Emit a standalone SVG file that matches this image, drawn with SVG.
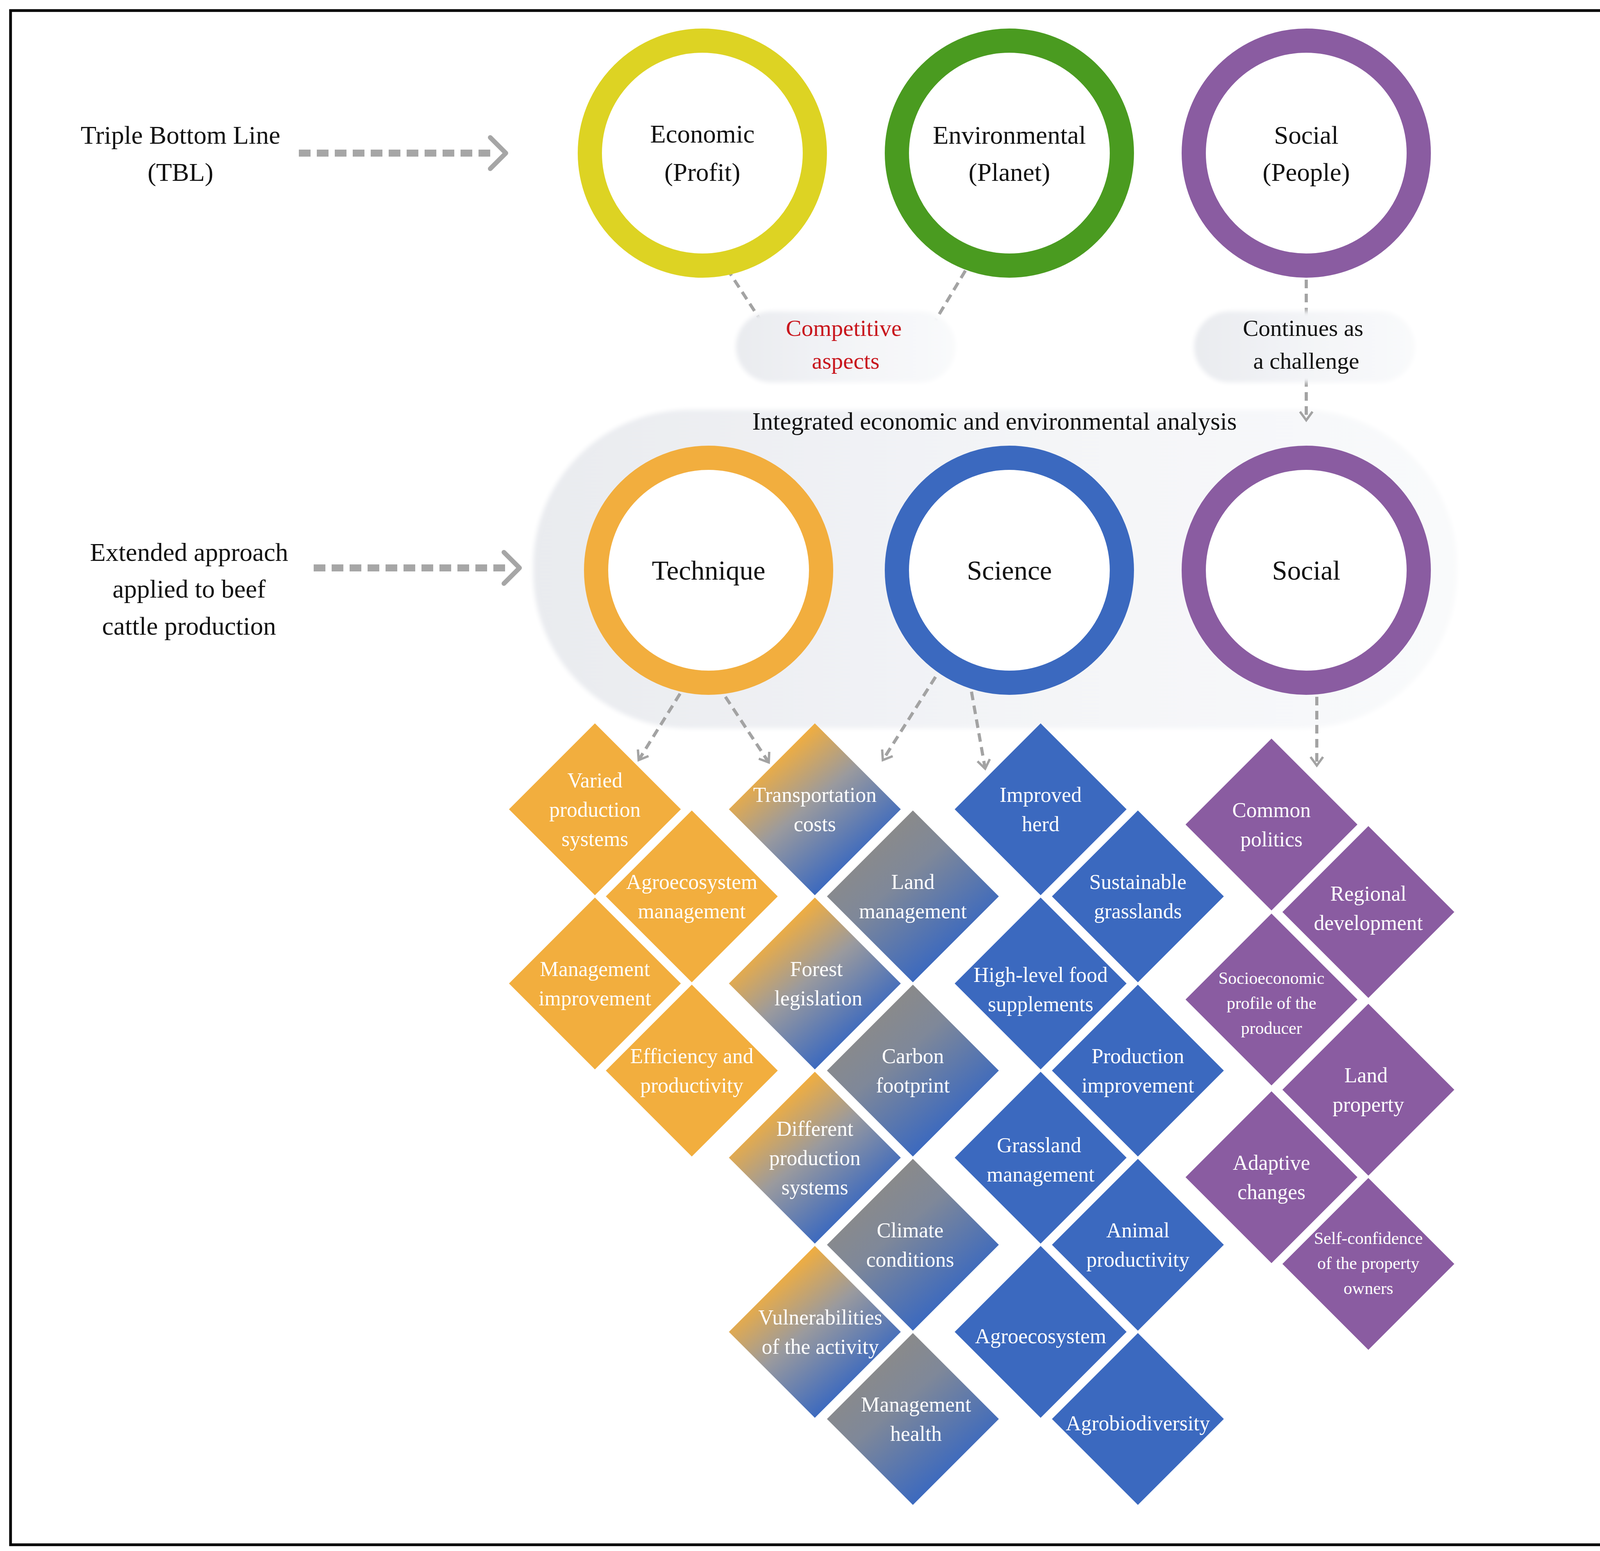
<svg xmlns="http://www.w3.org/2000/svg" width="4228" height="3971" viewBox="0 0 4228 3971">
<style>
.t{font-family:"Liberation Serif",serif;text-anchor:middle;fill:#111}
.big{font-size:66px}
.ring{fill:#fff;stroke-width:62}
.dt{font-family:"Liberation Serif",serif;text-anchor:middle;fill:#fff;font-size:54px}
.ds{font-size:44px}
.con{fill:none;stroke:#A3A3A3;stroke-width:8;stroke-dasharray:22 14}
.big-arrow{fill:none;stroke:#A6A6A6;stroke-width:18;stroke-dasharray:30 16}
.head{fill:none;stroke:#A6A6A6;stroke-width:12;stroke-linecap:round;stroke-linejoin:round}
.or{fill:#F2AE3E}.bl{fill:#3B69BF}.pu{fill:#8A5CA1}
</style>
<defs>
<marker id="ah" viewBox="0 0 20 20" refX="14" refY="10" markerWidth="5" markerHeight="5" orient="auto" markerUnits="strokeWidth">
<path d="M3,2 L14,10 L3,18" fill="none" stroke="#A3A3A3" stroke-width="3"/>
</marker>
<linearGradient id="gA" x1="0.25" y1="0.2" x2="0.75" y2="0.8">
<stop offset="0" stop-color="#F2AE3E"/><stop offset="0.45" stop-color="#9A9A9E"/><stop offset="1" stop-color="#3B69BF"/>
</linearGradient>
<linearGradient id="gB" x1="0.25" y1="0.2" x2="0.75" y2="0.8">
<stop offset="0" stop-color="#8A8A8A"/><stop offset="0.35" stop-color="#7F8899"/><stop offset="1" stop-color="#3B69BF"/>
</linearGradient>
<linearGradient id="pill" x1="0" y1="0" x2="1" y2="0">
<stop offset="0" stop-color="#E9EBEF"/><stop offset="0.5" stop-color="#F3F4F7"/><stop offset="1" stop-color="#F9FAFB"/>
</linearGradient>
<filter id="soft" x="-5%" y="-10%" width="110%" height="120%"><feGaussianBlur stdDeviation="6"/></filter>
<symbol id="dm" viewBox="-220 -220 440 440" overflow="visible"><path d="M0,-220 L220,0 L0,220 L-220,0Z"/></symbol>
</defs>
<rect x="0" y="0" width="4228" height="3971" fill="#fff"/>
<rect x="27" y="27" width="4179" height="3928" fill="none" stroke="#000" stroke-width="7"/>

<g id="bg-pill">
<rect x="1365" y="1049" width="2365" height="816" rx="400" fill="url(#pill)" filter="url(#soft)"/>
<text class="t" x="2546" y="1100" font-size="64">Integrated economic and environmental analysis</text>
</g>

<g id="connectors">
<path class="big-arrow" d="M765,392 H1270"/>
<path class="head" d="M1255,352 L1295,392 L1255,432"/>
<path class="big-arrow" d="M803,1454 H1305"/>
<path class="head" d="M1290,1414 L1330,1454 L1290,1494"/>
<path class="con" d="M1841,657 L1973,860" marker-end="url(#ah)"/>
<path class="con" d="M2490,662 L2368,865" marker-end="url(#ah)"/>
<path class="con" d="M3344,716 L3344,1076" marker-end="url(#ah)"/>
<path class="con" d="M1741,1776 L1635,1946" marker-end="url(#ah)"/>
<path class="con" d="M1857,1784 L1968,1952" marker-end="url(#ah)"/>
<path class="con" d="M2395,1733 L2260,1946" marker-end="url(#ah)"/>
<path class="con" d="M2487,1771 L2522,1968" marker-end="url(#ah)"/>
<path class="con" d="M3371,1784 L3371,1960" marker-end="url(#ah)"/>
</g>

<g id="competitive">
<rect x="1884" y="797" width="562" height="182" rx="91" fill="url(#pill)" filter="url(#soft)"/>
<text class="t" x="2160" y="860" font-size="60" fill="#C8161D" style="fill:#C8161D">Competitive</text>
<text class="t" x="2165" y="944" font-size="60" style="fill:#C8161D">aspects</text>
</g>
<g id="continues">
<rect x="3057" y="797" width="565" height="182" rx="91" fill="url(#pill)" filter="url(#soft)"/>
<text class="t" x="3336" y="860" font-size="60">Continues as</text>
<text class="t" x="3344" y="944" font-size="60">a challenge</text>
</g>

<g id="tbl-label">
<text class="t big" x="462" y="368">Triple Bottom Line</text>
<text class="t big" x="462" y="463">(TBL)</text>
</g>
<g id="extended-label">
<text class="t big" x="484" y="1436">Extended approach</text>
<text class="t big" x="484" y="1530">applied to beef</text>
<text class="t big" x="484" y="1625">cattle production</text>
</g>

<g id="economic"><circle class="ring" cx="1798" cy="392" r="288" stroke="#DDD323"/>
<text class="t big" x="1798" y="365">Economic</text><text class="t big" x="1798" y="463">(Profit)</text></g>
<g id="environmental"><circle class="ring" cx="2584" cy="392" r="288" stroke="#4A9B20"/>
<text class="t big" x="2584" y="368">Environmental</text><text class="t big" x="2584" y="463">(Planet)</text></g>
<g id="social-top"><circle class="ring" cx="3344" cy="392" r="288" stroke="#8A5CA1"/>
<text class="t big" x="3344" y="368">Social</text><text class="t big" x="3344" y="463">(People)</text></g>

<g id="technique"><circle class="ring" cx="1814" cy="1460" r="288" stroke="#F2AE3E"/>
<text class="t" x="1814" y="1484" font-size="70">Technique</text></g>
<g id="science"><circle class="ring" cx="2584" cy="1460" r="288" stroke="#3B69BF"/>
<text class="t" x="2584" y="1484" font-size="70">Science</text></g>
<g id="social"><circle class="ring" cx="3344" cy="1460" r="288" stroke="#8A5CA1"/>
<text class="t" x="3344" y="1484" font-size="70">Social</text></g>

<g id="d-varied"><path class="or" d="M1523,1852 L1743,2072 L1523,2292 L1303,2072Z"/>
<text class="dt" x="1523" y="2016">Varied</text><text class="dt" x="1523" y="2091">production</text><text class="dt" x="1523" y="2166">systems</text></g>
<g id="d-agro-mgmt"><path class="or" d="M1771,2075 L1991,2295 L1771,2515 L1551,2295Z"/>
<text class="dt" x="1771" y="2276">Agroecosystem</text><text class="dt" x="1771" y="2351">management</text></g>
<g id="d-mgmt-impr"><path class="or" d="M1523,2298 L1743,2518 L1523,2738 L1303,2518Z"/>
<text class="dt" x="1523" y="2499">Management</text><text class="dt" x="1523" y="2574">improvement</text></g>
<g id="d-efficiency"><path class="or" d="M1771,2521 L1991,2741 L1771,2961 L1551,2741Z"/>
<text class="dt" x="1771" y="2722">Efficiency and</text><text class="dt" x="1771" y="2797">productivity</text></g>

<g id="d-transport"><path fill="url(#gA)" d="M2086,1852 L2306,2072 L2086,2292 L1866,2072Z"/>
<text class="dt" x="2086" y="2053">Transportation</text><text class="dt" x="2086" y="2128">costs</text></g>
<g id="d-land-mgmt"><path fill="url(#gB)" d="M2337,2075 L2557,2295 L2337,2515 L2117,2295Z"/>
<text class="dt" x="2337" y="2276">Land</text><text class="dt" x="2337" y="2351">management</text></g>
<g id="d-forest"><path fill="url(#gA)" d="M2086,2298 L2306,2518 L2086,2738 L1866,2518Z"/>
<text class="dt" x="2090" y="2499">Forest</text><text class="dt" x="2095" y="2574">legislation</text></g>
<g id="d-carbon"><path fill="url(#gB)" d="M2337,2521 L2557,2741 L2337,2961 L2117,2741Z"/>
<text class="dt" x="2337" y="2722">Carbon</text><text class="dt" x="2337" y="2797">footprint</text></g>
<g id="d-different"><path fill="url(#gA)" d="M2086,2744 L2306,2964 L2086,3184 L1866,2964Z"/>
<text class="dt" x="2086" y="2908">Different</text><text class="dt" x="2086" y="2983">production</text><text class="dt" x="2086" y="3058">systems</text></g>
<g id="d-climate"><path fill="url(#gB)" d="M2337,2967 L2557,3187 L2337,3407 L2117,3187Z"/>
<text class="dt" x="2330" y="3168">Climate</text><text class="dt" x="2330" y="3243">conditions</text></g>
<g id="d-vulner"><path fill="url(#gA)" d="M2086,3190 L2306,3410 L2086,3630 L1866,3410Z"/>
<text class="dt" x="2100" y="3391">Vulnerabilities</text><text class="dt" x="2100" y="3466">of the activity</text></g>
<g id="d-mgmt-health"><path fill="url(#gB)" d="M2337,3413 L2557,3633 L2337,3853 L2117,3633Z"/>
<text class="dt" x="2345" y="3614">Management</text><text class="dt" x="2345" y="3689">health</text></g>

<g id="d-improved"><path class="bl" d="M2664,1852 L2884,2072 L2664,2292 L2444,2072Z"/>
<text class="dt" x="2664" y="2053">Improved</text><text class="dt" x="2664" y="2128">herd</text></g>
<g id="d-sustainable"><path class="bl" d="M2913,2075 L3133,2295 L2913,2515 L2693,2295Z"/>
<text class="dt" x="2913" y="2276">Sustainable</text><text class="dt" x="2913" y="2351">grasslands</text></g>
<g id="d-highlevel"><path class="bl" d="M2664,2298 L2884,2518 L2664,2738 L2444,2518Z"/>
<text class="dt" x="2664" y="2514">High-level food</text><text class="dt" x="2664" y="2589">supplements</text></g>
<g id="d-production"><path class="bl" d="M2913,2521 L3133,2741 L2913,2961 L2693,2741Z"/>
<text class="dt" x="2913" y="2722">Production</text><text class="dt" x="2913" y="2797">improvement</text></g>
<g id="d-grassland"><path class="bl" d="M2664,2744 L2884,2964 L2664,3184 L2444,2964Z"/>
<text class="dt" x="2660" y="2950">Grassland</text><text class="dt" x="2664" y="3025">management</text></g>
<g id="d-animal"><path class="bl" d="M2913,2967 L3133,3187 L2913,3407 L2693,3187Z"/>
<text class="dt" x="2913" y="3168">Animal</text><text class="dt" x="2913" y="3243">productivity</text></g>
<g id="d-agroeco"><path class="bl" d="M2664,3190 L2884,3410 L2664,3630 L2444,3410Z"/>
<text class="dt" x="2664" y="3439">Agroecosystem</text></g>
<g id="d-agrobio"><path class="bl" d="M2913,3413 L3133,3633 L2913,3853 L2693,3633Z"/>
<text class="dt" x="2913" y="3662">Agrobiodiversity</text></g>

<g id="d-common"><path class="pu" d="M3255,1891 L3475,2111 L3255,2331 L3035,2111Z"/>
<text class="dt" x="3255" y="2092">Common</text><text class="dt" x="3255" y="2167">politics</text></g>
<g id="d-regional"><path class="pu" d="M3503,2115 L3723,2335 L3503,2555 L3283,2335Z"/>
<text class="dt" x="3503" y="2306">Regional</text><text class="dt" x="3503" y="2381">development</text></g>
<g id="d-socio"><path class="pu" d="M3255,2339 L3475,2559 L3255,2779 L3035,2559Z"/>
<text class="dt ds" x="3255" y="2519">Socioeconomic</text><text class="dt ds" x="3255" y="2583">profile of the</text><text class="dt ds" x="3255" y="2647">producer</text></g>
<g id="d-landprop"><path class="pu" d="M3503,2570 L3723,2790 L3503,3010 L3283,2790Z"/>
<text class="dt" x="3497" y="2771">Land</text><text class="dt" x="3503" y="2846">property</text></g>
<g id="d-adaptive"><path class="pu" d="M3255,2794 L3475,3014 L3255,3234 L3035,3014Z"/>
<text class="dt" x="3255" y="2995">Adaptive</text><text class="dt" x="3255" y="3070">changes</text></g>
<g id="d-selfconf"><path class="pu" d="M3503,3016 L3723,3236 L3503,3456 L3283,3236Z"/>
<text class="dt ds" x="3503" y="3185">Self-confidence</text><text class="dt ds" x="3503" y="3249">of the property</text><text class="dt ds" x="3503" y="3313">owners</text></g>
</svg>
